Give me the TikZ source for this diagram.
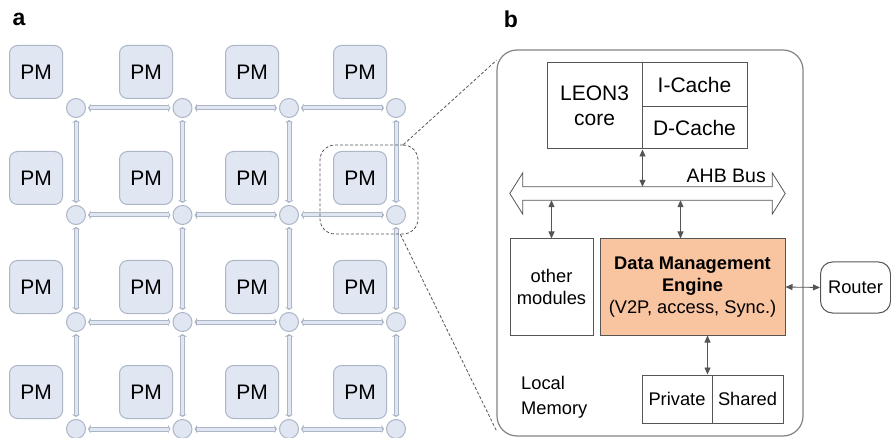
\documentclass[tikz,border=0pt]{standalone}
\usepackage{fontspec}
\setmainfont{Liberation Sans}
\usetikzlibrary{arrows.meta,calc}

\definecolor{pmfill}{RGB}{224,230,242}
\definecolor{pmline}{RGB}{172,182,198}
\definecolor{dmefill}{RGB}{249,196,160}
\definecolor{boxline}{RGB}{85,85,85}
\definecolor{tileline}{RGB}{130,130,130}

\begin{document}
\begin{tikzpicture}[x=1pt, y=-1pt,
		pm/.style={draw=pmline, fill=pmfill, rounded corners=8pt, line width=1pt,
			minimum width=53pt, minimum height=53pt, inner sep=0pt, font=\fontsize{21}{24}\selectfont},
		router/.style={circle, draw=pmline, fill=pmfill, line width=1pt, minimum size=19pt, inner sep=0pt},
		link/.style={draw=pmline, line width=5pt, shorten <=2pt, shorten >=2pt,
			{Latex[length=2.5pt, width=10pt]}-{Latex[length=2.5pt, width=10pt]},
			postaction={draw=pmfill, line width=3pt, shorten <=4pt, shorten >=4pt, -}},
		blk/.style={draw=boxline, line width=1pt, inner sep=0pt, align=center, font=\fontsize{18.3}{22}\selectfont},
		conn/.style={draw=boxline, line width=0.8pt, {Triangle[length=7pt, width=6pt]}-{Triangle[length=7pt, width=6pt]}},
		zoomline/.style={draw=boxline, line width=0.8pt, dash pattern=on 3pt off 2pt}]
	\useasboundingbox (0,0) rectangle (891,438);
	
	% panel a: mesh of processing modules
	\node[font=\bfseries\fontsize{23}{26}\selectfont] (labela) at (19,19) {a};
	
	\foreach \i/\y in {1/108, 2/215, 3/322, 4/429}
	\foreach \j/\x in {1/76, 2/182.5, 3/289, 4/396}
	\node[router] (r\i\j) at (\x,\y) {};
	
	\foreach \i/\y in {1/72, 2/178, 3/287, 4/392}
	\foreach \j/\x in {1/36, 2/146, 3/252, 4/360}
	\node[pm] (pm\i\j) at (\x,\y) {PM};
	
	\foreach \i in {1,...,4}
	\foreach \j/\k in {1/2, 2/3, 3/4}
	\draw[link] (r\i\j) -- (r\i\k);
	
	\foreach \i/\k in {1/2, 2/3, 3/4}
	\foreach \j in {1,...,4}
	\draw[link] (r\i\j) -- (r\k\j);
	
	\node[zoomline, rounded corners=15pt, minimum width=98pt, minimum height=89pt] (zoombox) at (369,189.5) {};
	
	% panel b: one processing module
	\node[font=\bfseries\fontsize{23}{26}\selectfont] (labelb) at (511,19) {b};
	\node[draw=tileline, line width=1.2pt, rounded corners=20pt, minimum width=306pt, minimum height=386pt] (tile) at (650,243) {};
	
	\draw[zoomline] ([xshift=-15pt]zoombox.north east) -- ([yshift=-11pt]tile.north west);
	\draw[zoomline] ([xshift=-18pt]zoombox.south east) -- ([yshift=6pt]tile.south west);
	
	\node[blk, minimum width=95pt, minimum height=86pt, font=\fontsize{21}{25}\selectfont] (core) at (594.5,106) {LEON3\\core};
	\node[blk, minimum width=105pt, minimum height=44pt, font=\fontsize{21}{25}\selectfont] (icache) at (694.5,85) {I-Cache};
	\node[blk, minimum width=105pt, minimum height=42pt, font=\fontsize{21}{25}\selectfont] (dcache) at (694.5,128) {D-Cache};
	
	\node[minimum width=249pt, minimum height=13pt, inner sep=0pt] (bus) at (647.5,193.5) {};
	\draw[boxline, line width=0.8pt] (bus.north west) -- (bus.north east) -- ++(0,-14) -- ($(bus.east)+(13,0)$)
		-- ($(bus.south east)+(0,14)$) -- (bus.south east) -- (bus.south west) -- ++(0,14)
		-- ($(bus.west)+(-13,0)$) -- ($(bus.north west)+(0,-14)$) -- cycle;
	\node[anchor=base east, inner sep=0pt, font=\fontsize{19.5}{22}\selectfont] (buslabel) at (766,183) {AHB Bus};
	
	\node[blk, minimum width=83pt, minimum height=96pt] (other) at (551.5,287) {other\\modules};
	\node[blk, fill=dmefill, minimum width=185pt, minimum height=96pt] (dme) at (692.5,287)
		{\textbf{Data Management}\\\textbf{Engine}\\(V2P, access, Sync.)};
	\node[blk, rounded corners=12pt, minimum width=70pt, minimum height=51pt] (router) at (855.5,287.5) {Router};
	
	\node[blk, minimum width=70pt, minimum height=48pt] (priv) at (677,399) {Private};
	\node[blk, minimum width=71pt, minimum height=48pt] (shared) at (747.5,399) {Shared};
	\node[anchor=west, align=left, inner sep=0pt, font=\fontsize{18.3}{25}\selectfont] (localmem) at (521,397) {Local\\Memory};
	
	\draw[conn] (core.south east) -- (core.south east |- bus.north);
	\draw[conn] (bus.south -| other.north) -- (other.north);
	\draw[conn] (bus.south -| dme.north) ++(-12,0) -- ([xshift=-12pt]dme.north);
	\draw[conn] (dme.east) -- (router.west);
	\draw[conn] ([xshift=-5pt]priv.north east |- dme.south) -- ([xshift=-5pt]priv.north east);
	
\end{tikzpicture}
\end{document}
